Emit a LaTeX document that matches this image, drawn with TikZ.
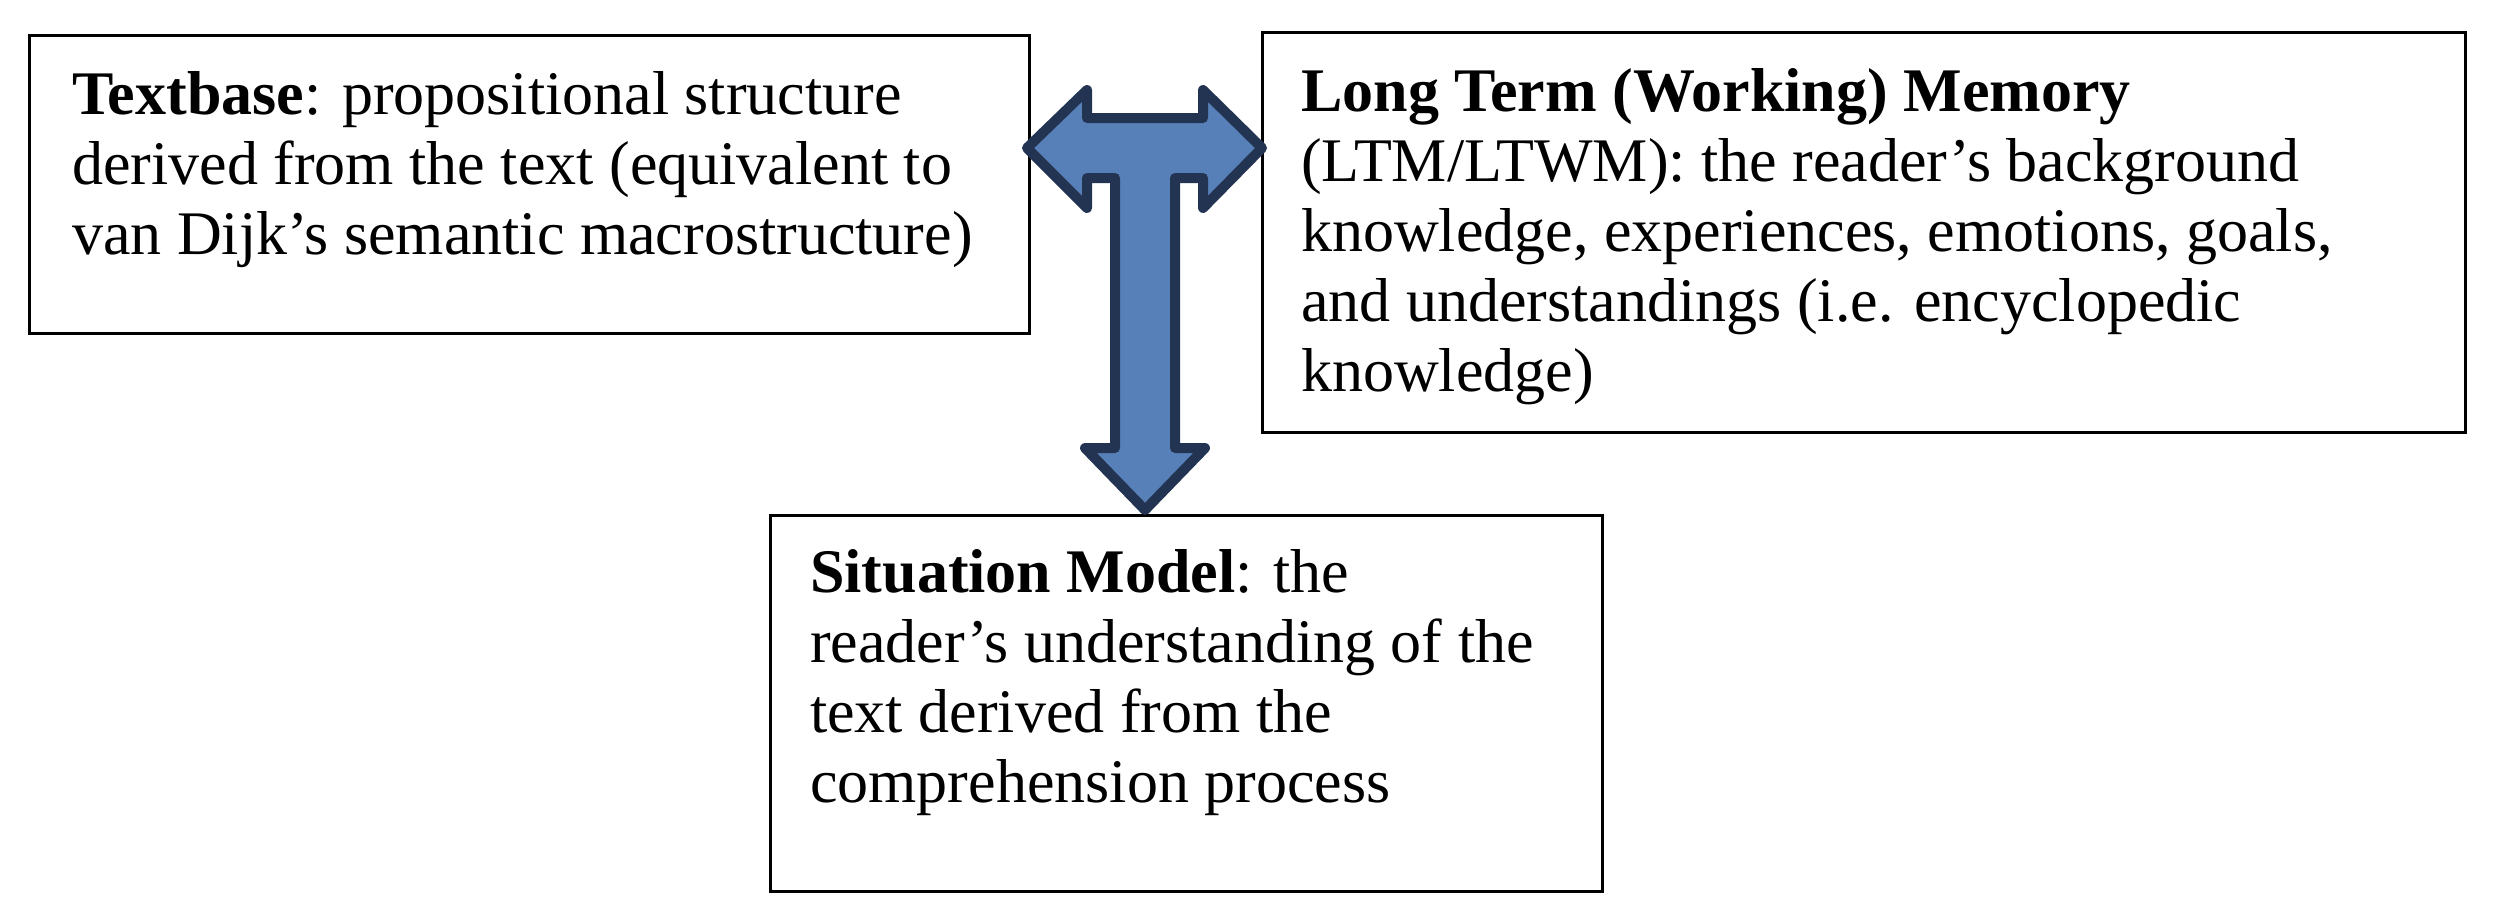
\documentclass[tikz,border=0pt]{standalone}
\usepackage{fontspec}
\setmainfont{Liberation Serif}
\begin{document}
\begin{tikzpicture}[x=1pt,y=-1pt,
  box/.style={draw=black,line width=3pt},
  txt/.style={anchor=north west,align=left,inner sep=0pt,font=\fontsize{62}{70}\selectfont},
  arr/.style={line width=10pt,line join=round}]
\useasboundingbox (0,0) rectangle (2500,911);
\draw[box] (29,35) rectangle (1029,333);
\draw[box] (1262,32) rectangle (2465,432);
\draw[box] (770,515) rectangle (1602,891);
\node[txt] (tb) at (72,71) {\textbf{Textbase}: propositional structure\\derived from the text (equivalent to\\van Dijk’s semantic macrostructure)};
\node[txt] (ltm) at (1301,68) {\textbf{Long Term (Working) Memory}\\(LTM/LTWM): the reader’s background\\knowledge, experiences, emotions, goals,\\and understandings (i.e. encyclopedic\\knowledge)};
\node[txt] (sm) at (810,549) {\textbf{Situation Model}: the\\reader’s understanding of the\\text derived from the\\comprehension process};
\draw[arr,draw={rgb,255:red,35;green,52;blue,82},fill={rgb,255:red,88;green,128;blue,184}]
 (1027,148) -- (1087,90) -- (1087,118) -- (1203,118) -- (1203,90) -- (1262,148)
 -- (1203,208) -- (1203,178) -- (1175,178) -- (1175,448) -- (1205,448) -- (1145,510)
 -- (1085,448) -- (1115,448) -- (1115,178) -- (1087,178) -- (1087,208) -- cycle;
\end{tikzpicture}
\end{document}
